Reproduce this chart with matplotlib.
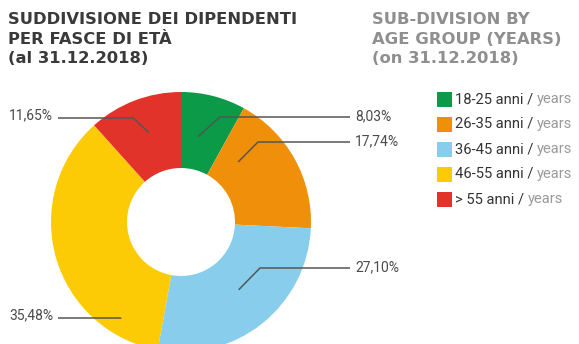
import numpy as np
import matplotlib.pyplot as plt

# age groups and share of employees (%)
groups = ['18-25 anni', '26-35 anni', '36-45 anni', '46-55 anni', '> 55 anni']
shares = [8.03, 17.74, 27.10, 35.48, 11.65]
share_labels = ['8,03%', '17,74%', '27,10%', '35,48%', '11,65%']
colors = ['#0b9a47', '#f0900a', '#88cdec', '#fccb05', '#e2332a']

title_it = ['SUDDIVISIONE DEI DIPENDENTI', 'PER FASCE DI ETÀ', '(al 31.12.2018)']
title_en = ['SUB-DIVISION BY', 'AGE GROUP (YEARS)', '(on 31.12.2018)']

W, H = 579, 344
fig = plt.figure(figsize=(W / 100, H / 100), dpi=100)
ax = fig.add_axes([0, 0, 1, 1])

cx, cy, R = 181, H - 222, 130
wedges, _ = ax.pie(shares, colors=colors, startangle=90, counterclock=False,
                   center=(cx, cy), radius=R,
                   wedgeprops=dict(width=76, linewidth=0))
ax.set_xlim(0, W)
ax.set_ylim(0, H)
ax.set_aspect('equal')
ax.axis('off')

# leader lines: anchor inside the wedge (fraction along the wedge, radius),
# knee point and side of the label
anchors = [(0.39, 87), (0.23, 83), (0.48, 89), (0.17, 113), (0.53, 95)]
knees = [(220, 117), (258, 142), (260, 268), (121, 318), (133, 118)]
sides = ['right', 'right', 'right', 'left', 'left']
line_col = '#555555'
for w, (frac, r), (kx, ky), side, lab in zip(wedges, anchors, knees, sides, share_labels):
    ang = np.radians(w.theta1 + (1 - frac) * (w.theta2 - w.theta1))
    px = cx + r * np.cos(ang)
    py = cy + r * np.sin(ang)
    ky = H - ky
    if side == 'right':
        ax.plot([px, kx, 350], [py, ky, ky], color=line_col, lw=1.1,
                solid_capstyle='butt')
        ax.text(355, ky + 1, lab, ha='left', va='center', fontsize=10,
                family='Roboto', color='#4a4a4a')
    else:
        ax.plot([px, kx, 58], [py, ky, ky], color=line_col, lw=1.1,
                solid_capstyle='butt')
        ax.text(53, ky + 3, lab, ha='right', va='center', fontsize=10,
                family='Roboto', color='#4a4a4a')

# titles
for i, line in enumerate(title_it):
    ax.text(8, H - 24 - 19.5 * i, line, ha='left', va='baseline', fontsize=11.8,
            fontweight='bold', family='DejaVu Sans', color='#3a3a3a')
for i, line in enumerate(title_en):
    ax.text(372, H - 24 - 19.5 * i, line, ha='left', va='baseline', fontsize=11.8,
            fontweight='bold', family='DejaVu Sans', color='#8f8f8f')

# legend
for i, (g, c) in enumerate(zip(groups, colors)):
    y = H - 99 - 25 * i
    ax.add_patch(plt.Rectangle((437, y - 7.5), 15, 15, color=c, lw=0))
    t = ax.text(455, y, g + ' / ', ha='left', va='center', fontsize=10.6,
                family='Roboto', color='#333333')
    ax.annotate('years', xy=(1, 0.5), xycoords=t, ha='left', va='center',
                fontsize=10.6, family='Roboto', color='#9a9a9a')

fig.savefig('out.png', dpi=100)
